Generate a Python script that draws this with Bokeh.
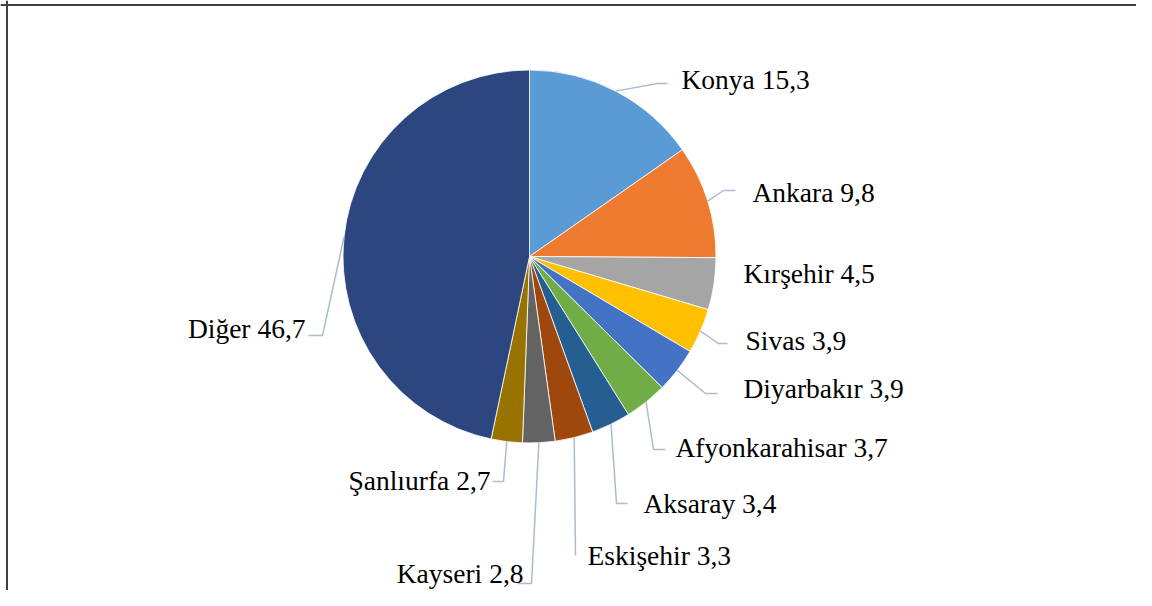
import math
from bokeh.plotting import figure
from bokeh.models import Range1d, Span, ColumnDataSource
from bokeh.core.properties import value
from bokeh.embed import file_html
from bokeh.resources import INLINE

# ---- data ----
cities = ["Konya", "Ankara", "Kırşehir", "Sivas", "Diyarbakır", "Afyonkarahisar",
          "Aksaray", "Eskişehir", "Kayseri", "Şanlıurfa", "Diğer"]
shares = [15.3, 9.8, 4.5, 3.9, 3.9, 3.7, 3.4, 3.3, 2.8, 2.7, 46.7]

# ---- styles / layout ----
colors = ["#5B9BD5", "#EE7B30", "#A5A5A5", "#FFC000", "#4472C4", "#70AD47",
          "#255E91", "#9E480E", "#636363", "#997300", "#2C4780"]
# label position (screen px: x, baseline y), alignment
label_pos = [(681, 79, "left"), (752, 192, "left"), (743, 273, "left"), (745, 340, "left"),
             (743, 388, "left"), (675, 447, "left"), (643, 503, "left"), (587, 555, "left"),
             (523, 573, "right"), (490, 480, "right"), (305, 328, "right")]
# leader line elbow and end (screen px); None -> no leader
leader_pts = [((657, 83), (667, 83)), ((723, 190), (735, 190)), None,
              ((718, 343), (727, 343)), ((705, 393), (717, 393)), ((653, 449), (665, 449)),
              ((616, 503), (627, 503)), ((575, 555), (575, 555)), ((531, 583), (517, 583)),
              ((503, 481), (492, 481)), ((322, 335), (308, 335))]
CX, CY, R = 529, 256, 186.5

W, H = 1136, 590
p = figure(width=W, height=H, x_range=Range1d(0, W), y_range=Range1d(-H, 0),
           output_backend="svg", toolbar_location=None, min_border=0,
           x_axis_location=None, y_axis_location=None)
p.grid.visible = False
p.outline_line_color = None
p.background_fill_color = "white"
p.border_fill_color = "white"

total = sum(shares)
starts, ends, mids = [], [], []
cum = 0.0
for v in shares:
    a0 = cum / total * 2 * math.pi
    cum += v
    a1 = cum / total * 2 * math.pi
    starts.append(math.pi / 2 - a1)
    ends.append(math.pi / 2 - a0)
    mids.append((a0 + a1) / 2)

src = ColumnDataSource(dict(start=starts, end=ends, color=colors, city=cities))
p.wedge(x=CX, y=-CY, radius=R, start_angle="start", end_angle="end", fill_color="color",
        line_color="white", line_width=0.8, source=src)

# leader lines
xs, ys = [], []
for m, lp in zip(mids, leader_pts):
    if lp is None:
        continue
    ax = CX + R * math.sin(m)
    ay = CY - R * math.cos(m)
    (ex, ey), (fx, fy) = lp
    xs.append([ax, ex, fx])
    ys.append([-ay, -ey, -fy])
p.multi_line(xs, ys, line_color="#AEBBCC", line_width=1.5)

# labels
def fmt(v):
    return str(v).replace(".", ",")

for align in ("left", "right"):
    lx, ly, lt = [], [], []
    for c, v, (x, y, a) in zip(cities, shares, label_pos):
        if a == align:
            lx.append(x)
            ly.append(-y)
            lt.append(f"{c} {fmt(v)}")
    p.text(x=lx, y=ly, text=lt, text_font=value("Liberation Serif"), text_font_size="27.5px",
           text_align=align, text_baseline="alphabetic", text_color="black")

# chart border (top and left visible)
p.add_layout(Span(location=-4.5, dimension="width", line_color="#404040", line_width=2))
p.add_layout(Span(location=6.5, dimension="height", line_color="#404040", line_width=2))

open("out.html", "w").write(file_html(p, INLINE))
